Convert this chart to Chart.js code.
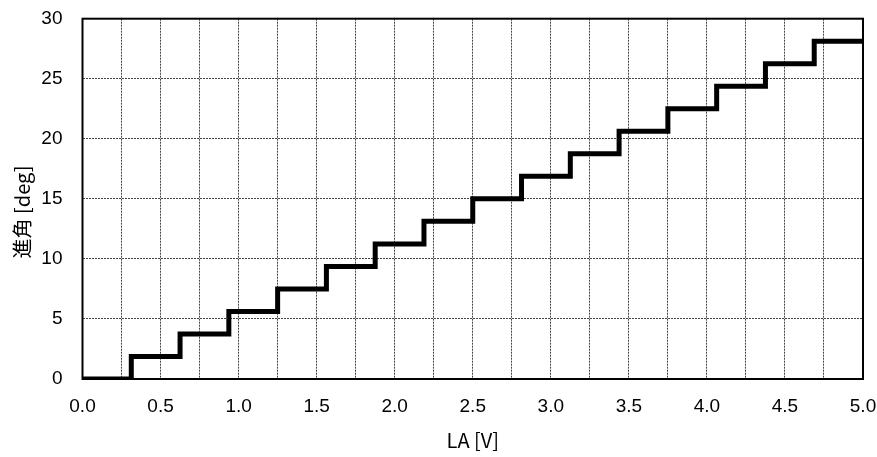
<!DOCTYPE html>
<html>
<head>
<meta charset="utf-8">
<script src="https://cdn.jsdelivr.net/npm/chart.js@4"></script>
<style>
  html, body { margin: 0; padding: 0; background: #fff; }
  #wrap { width: 877px; height: 457px; }
</style>
</head>
<body>
<div id="wrap"><canvas id="chart" width="877" height="457"></canvas></div>
<script>
// 値は画像から読み取り
const laV = [0, 0.3125, 0.625, 0.9375, 1.25, 1.5625, 1.875, 2.1875, 2.5, 2.8125, 3.125, 3.4375, 3.75, 4.0625, 4.375, 4.6875, 5.0];
const advanceDeg = [0, 1.875, 3.75, 5.625, 7.5, 9.375, 11.25, 13.125, 15, 16.875, 18.75, 20.625, 22.5, 24.375, 26.25, 28.125, 28.125];
const xTitle = 'LA [V]';
const yTitle = '進角 [deg]';

const FONT = "'Liberation Sans', 'Noto Sans CJK JP', sans-serif";

// 枠線と軸タイトルを描く
const framePlugin = {
  id: 'frame',
  afterDraw(chart) {
    const { ctx, chartArea: a } = chart;
    ctx.save();
    ctx.strokeStyle = '#000';
    ctx.lineWidth = 2;
    ctx.strokeRect(a.left, a.top, a.right - a.left, a.bottom - a.top);
    ctx.fillStyle = '#000';
    ctx.font = "20px 'Noto Sans CJK JP', sans-serif";
    ctx.textAlign = 'center';
    ctx.textBaseline = 'middle';
    ctx.fillText(xTitle, (a.left + a.right) / 2, 440);
    ctx.translate(22, 212);
    ctx.rotate(-Math.PI / 2);
    ctx.fillText(yTitle, 0, 0);
    ctx.restore();
  }
};

const ctx = document.getElementById('chart').getContext('2d');
new Chart(ctx, {
  type: 'line',
  data: {
    datasets: [{
      data: laV.map((x, i) => ({ x: x, y: advanceDeg[i] })),
      stepped: 'before',
      borderColor: '#000',
      borderWidth: 5,
      borderJoinStyle: 'miter',
      borderCapStyle: 'butt',
      pointRadius: 0,
      fill: false
    }]
  },
  options: {
    responsive: false,
    animation: false,
    layout: { padding: { top: 18.7, right: 14, left: 0, bottom: 0 } },
    plugins: { legend: { display: false }, tooltip: { enabled: false } },
    scales: {
      x: {
        type: 'linear',
        min: 0,
        max: 5,
        afterFit(scale) {
          scale.height = 78;
          scale.paddingLeft = 0;
          scale.paddingRight = 0;
        },
        grid: { color: '#444', lineWidth: 1, drawTicks: false },
        border: { display: false, dash: [2, 1] },
        ticks: {
          stepSize: 0.25,
          autoSkip: false,
          maxRotation: 0,
          padding: 16,
          color: '#000',
          font: { family: FONT, size: 19 },
          callback: v => (Math.round(v * 100) % 50 === 0 ? v.toFixed(1) : '')
        }
      },
      y: {
        min: 0,
        max: 30,
        afterFit(scale) {
          scale.width = 82.5;
          scale.paddingTop = 0;
          scale.paddingBottom = 0;
        },
        grid: { color: '#444', lineWidth: 1, drawTicks: false },
        border: { display: false, dash: [2, 1] },
        ticks: {
          stepSize: 5,
          padding: 20,
          color: '#000',
          font: { family: FONT, size: 19 }
        }
      }
    }
  },
  plugins: [framePlugin]
});
</script>
</body>
</html>
